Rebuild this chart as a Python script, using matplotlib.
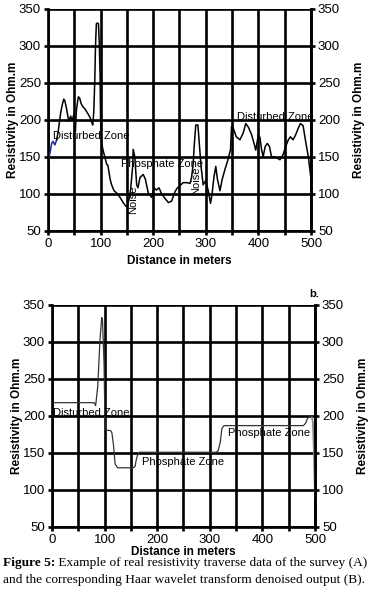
import matplotlib
matplotlib.use("Agg")
import matplotlib.pyplot as plt
import numpy as np

plt.rcParams['font.family'] = ['Liberation Sans', 'DejaVu Sans']

# ---- data ----
# (A) raw traverse: first few metres drawn in blue
raw_blue_x = [0, 3, 7, 9.5, 13, 16.5]
raw_blue_y = [139, 152, 168, 171, 166, 173]

raw_x = [16.5, 19.6, 22, 24, 27, 30, 32, 35, 38, 40, 43, 46, 49, 51, 52, 54, 57.6, 60,
         63, 66, 70, 73.5, 77, 80, 83, 85, 87, 89, 90, 91, 92, 94, 96, 97.5, 99, 100,
         102, 105, 108, 111.5, 114, 118, 121, 125.5, 130.6, 137, 143, 148, 151, 154,
         157, 161, 162, 165, 168.6, 171, 175, 181, 185, 190.7, 197, 201.5, 206, 211,
         216, 222, 229, 235, 241, 245, 251, 257, 264, 270, 273, 276, 278, 281, 285,
         288, 291, 295, 300, 305, 309, 312, 315.6, 319, 322, 327, 331, 336.5, 343,
         347, 349, 352, 358, 365, 371, 376, 381, 387, 391, 395, 400, 403, 406, 409,
         413, 417, 421, 425, 431, 436, 441, 447, 452, 457, 461, 466, 471, 476, 480,
         485, 490, 495, 500]
raw_y = [173, 185, 198, 209, 220, 228, 226, 216, 204, 198, 205, 199, 207, 196, 184, 213,
         231, 230, 222, 218, 215, 211, 207, 203, 197, 193, 210, 254, 290, 313, 330, 331,
         330, 304, 263, 200, 168, 158, 150, 140, 138, 120, 112, 104, 101, 95, 88, 83, 83,
         92, 105, 137, 160, 150, 112, 108, 122, 126, 120, 101, 95, 108, 105, 108, 100, 94,
         88, 90, 102, 107, 111, 115, 115, 114, 122, 140, 165, 193, 193, 165, 137, 112,
         118, 103, 87, 100, 123, 137, 120, 104, 119, 133, 148, 160, 191, 189, 177, 173,
         182, 195, 190, 180, 170, 159, 180, 176, 160, 150, 164, 168, 164, 150, 150, 148,
         146, 153, 164, 173, 177, 173, 180, 189, 195, 192, 170, 150, 120]

# (B) Haar wavelet denoised output
den_x = [0, 80, 83, 87, 91, 94.5, 96, 99, 101, 104, 112, 114, 117, 120, 125, 155, 158,
         160, 163, 166, 312, 316, 320, 323, 327, 478, 482, 486, 490, 494, 496, 498, 500]
den_y = [218, 218, 214, 240, 300, 333, 330, 270, 182, 181, 180, 177, 160, 135, 130, 130,
         132, 140, 148, 151, 151, 153, 165, 183, 187, 187, 190, 197, 199, 198, 192, 150, 90]

x_ticks = np.arange(0, 501, 50)
x_labels = [str(v) if v % 100 == 0 else '' for v in x_ticks]
y_ticks = np.arange(50, 351, 50)

GRID_W = 1.9
TICK_FS = 9.5


def style_axes(ax, xlabelpad):
    ax.set_xlim(0, 500)
    ax.set_ylim(50, 350)
    ax.set_xticks(x_ticks)
    ax.set_xticklabels(x_labels)
    ax.set_yticks(y_ticks)
    ax.tick_params(direction='out', length=3, width=GRID_W, labelsize=TICK_FS, pad=2)
    ax.grid(True, color='black', linewidth=GRID_W)
    ax.set_axisbelow(True)
    ax.spines['top'].set_visible(False)
    for s in ('left', 'bottom', 'right'):
        ax.spines[s].set_linewidth(GRID_W)
    ax.set_xlabel('Distance in meters', fontsize=8.5, fontweight='bold', labelpad=xlabelpad)
    ax.set_ylabel('Resistivity in Ohm.m', fontsize=8.5, fontweight='bold', labelpad=0)
    twin = ax.twinx()
    twin.set_ylim(50, 350)
    twin.set_yticks(y_ticks)
    twin.tick_params(direction='out', length=3, width=GRID_W, labelsize=TICK_FS, pad=2)
    twin.spines['top'].set_visible(False)
    twin.spines['right'].set_linewidth(GRID_W)
    twin.set_ylabel('Resistivity in Ohm.m', fontsize=8.5, fontweight='bold', labelpad=9)
    return twin


fig = plt.figure(figsize=(3.70, 5.93), dpi=100)

# ---- (A) raw data ----
ax1 = fig.add_axes([0.1297, 0.611, 0.7108, 0.3739])
style_axes(ax1, 4)
ax1.plot(raw_blue_x, raw_blue_y, color='#1f2a9c', linewidth=1.1, zorder=3)
ax1.plot(raw_x, raw_y, color='black', linewidth=1.1, zorder=3)
ax1.text(82, 178, 'Disturbed Zone', fontsize=8, ha='center', va='center', zorder=4)
ax1.text(217, 140.5, 'Phosphate Zone', fontsize=8, ha='center', va='center', zorder=4)
ax1.text(161, 92, 'Noise', fontsize=8, rotation=90, ha='center', va='center', zorder=4)
ax1.text(282, 118, 'Noise', fontsize=8, rotation=90, ha='center', va='center', zorder=4)
ax1.text(433, 203.6, 'Disturbed Zone', fontsize=8, ha='center', va='center', zorder=4)

# ---- (B) denoised output ----
ax2 = fig.add_axes([0.1405, 0.1113, 0.7108, 0.3744])
style_axes(ax2, 0)
ax2.plot(den_x[:-3], den_y[:-3], color='#333333', linewidth=0.9, zorder=3)
ax2.plot(den_x[-4:], den_y[-4:], color='#888888', linewidth=1.3, zorder=3)
ax2.text(75, 203.5, 'Disturbed Zone', fontsize=8, ha='center', va='center', zorder=4)
ax2.text(250, 138, 'Phosphate Zone', fontsize=8, ha='center', va='center', zorder=4)
ax2.text(412.5, 177, 'Phosphate Zone', fontsize=8, ha='center', va='center', zorder=4)
fig.text(0.849, 0.504, 'b.', fontsize=8, fontweight='bold', ha='center', va='center')

# ---- caption ----
serif = ['Liberation Serif', 'DejaVu Serif']
cap_size = 9.6
t1 = fig.text(0.008, 0.0505, 'Figure 5:', family=serif, fontsize=cap_size,
              fontweight='bold', va='center')
fig.canvas.draw()
bb = t1.get_window_extent()
fig.text(bb.x1 / fig.bbox.width, 0.0505,
         ' Example of real resistivity traverse data of the survey (A)',
         family=serif, fontsize=cap_size, va='center')
fig.text(0.008, 0.0225,
         'and the corresponding Haar wavelet transform denoised output (B).',
         family=serif, fontsize=cap_size, va='center')

fig.savefig('out.png', dpi=100)
